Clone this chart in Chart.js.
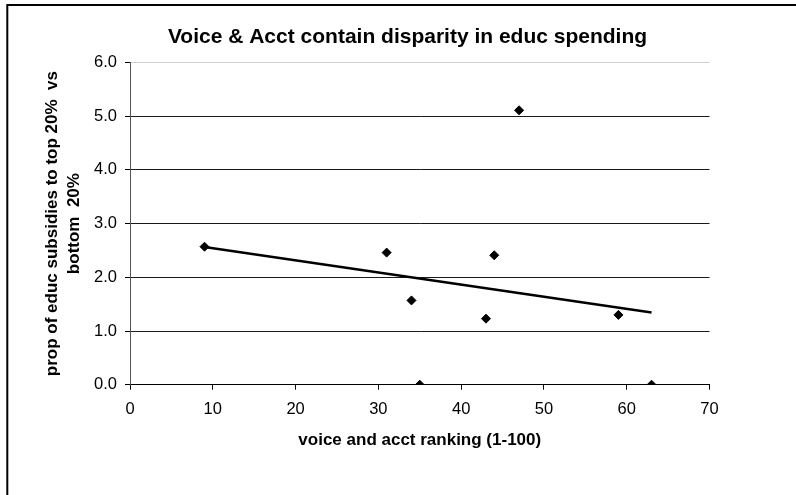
<!DOCTYPE html>
<html>
<head>
<meta charset="utf-8">
<title>Voice & Acct contain disparity in educ spending</title>
<script src="https://cdn.jsdelivr.net/npm/chart.js@4/dist/chart.umd.min.js"></script>
<style>
  html, body { margin: 0; padding: 0; background: #fff; }
  #wrap { width: 796px; height: 495px; position: relative; }
</style>
</head>
<body>
<div id="wrap"><canvas id="chart" width="796" height="495"></canvas></div>
<script>
// Voice & accountability ranking vs. ratio of education subsidies (top 20% / bottom 20%)
const voiceRank    = [9, 31, 34, 35, 43, 44, 47, 59, 63];
const subsidyRatio = [2.57, 2.46, 1.57, 0.0, 1.23, 2.41, 5.11, 1.30, 0.0];

const chartTitle = 'Voice & Acct contain disparity in educ spending';
const xTitle = 'voice and acct ranking (1-100)';
const yTitle = ['prop of educ subsidies to top 20%  vs', 'bottom  20%'];
const xTicks = [0, 10, 20, 30, 40, 50, 60, 70];
const yTicks = [0, 1, 2, 3, 4, 5, 6];

const points = voiceRank.map((x, i) => ({ x, y: subsidyRatio[i] }));

// Ordinary least-squares linear trendline across the observed x range
function linearFit(xs, ys) {
  const n = xs.length;
  const mx = xs.reduce((a, b) => a + b, 0) / n;
  const my = ys.reduce((a, b) => a + b, 0) / n;
  let sxy = 0, sxx = 0;
  for (let i = 0; i < n; i++) {
    sxy += (xs[i] - mx) * (ys[i] - my);
    sxx += (xs[i] - mx) * (xs[i] - mx);
  }
  const slope = sxy / sxx;
  return x => my + slope * (x - mx);
}
const fit = linearFit(voiceRank, subsidyRatio);
const xMin = Math.min(...voiceRank), xMax = Math.max(...voiceRank);
const trend = [{ x: xMin, y: fit(xMin) }, { x: xMax, y: fit(xMax) }];

const FONT = "'Liberation Sans', Arial, Helvetica, sans-serif";

// White background plus the outer chart frame (left and top edges)
const framePlugin = {
  id: 'frame',
  beforeDraw(chart) {
    const ctx = chart.ctx;
    ctx.save();
    ctx.fillStyle = '#fff';
    ctx.fillRect(0, 0, chart.width, chart.height);
    ctx.strokeStyle = '#000';
    ctx.lineWidth = 2;
    ctx.beginPath();
    ctx.moveTo(7.3, chart.height + 2);
    ctx.lineTo(7.3, 5);
    ctx.lineTo(chart.width + 2, 5);
    ctx.stroke();
    ctx.restore();
  }
};

new Chart(document.getElementById('chart'), {
  type: 'scatter',
  data: {
    datasets: [
      {
        label: 'trend',
        data: trend,
        showLine: true,
        borderColor: '#000',
        borderWidth: 2.5,
        pointRadius: 0,
        fill: false,
        order: 2
      },
      {
        label: 'countries',
        data: points,
        pointStyle: 'rectRot',
        pointRadius: 4.5,
        pointBackgroundColor: '#000',
        pointBorderColor: '#000',
        pointBorderWidth: 1,
        order: 1
      }
    ]
  },
  options: {
    responsive: false,
    animation: false,
    devicePixelRatio: 1,
    layout: { padding: { left: 19, right: 0, top: 0, bottom: 0 } },
    plugins: {
      legend: { display: false },
      tooltip: { enabled: false },
      title: {
        display: true,
        text: chartTitle,
        color: '#000',
        font: { family: FONT, size: 21, weight: 'bold', lineHeight: 1.2 },
        padding: { top: 24.4, bottom: 12.9 }
      }
    },
    scales: {
      x: {
        type: 'linear',
        position: 'bottom',
        min: 0,
        max: 70,
        afterBuildTicks(s) { s.ticks = xTicks.map(v => ({ value: v })); },
        afterFit(s) { s.height = 110.3; },
        ticks: {
          color: '#000',
          padding: 10,
          maxRotation: 0,
          font: { family: FONT, size: 16.5 }
        },
        grid: {
          drawOnChartArea: false,
          drawTicks: true,
          tickLength: 5,
          tickColor: '#000',
          color: '#000'
        },
        border: { display: true, color: '#000', width: 1 },
        title: {
          display: true,
          text: xTitle,
          color: '#000',
          font: { family: FONT, size: 17, weight: 'bold', lineHeight: 1.2 },
          padding: { top: 0, bottom: 44.8 }
        }
      },
      y: {
        type: 'linear',
        position: 'left',
        min: 0,
        max: 6,
        afterBuildTicks(s) { s.ticks = yTicks.map(v => ({ value: v })); },
        afterFit(s) { s.width = 111; },
        ticks: {
          color: '#000',
          padding: 8,
          font: { family: FONT, size: 16.5 },
          callback: v => Number(v).toFixed(1)
        },
        grid: {
          drawTicks: true,
          tickLength: 5,
          tickColor: '#000',
          color: c => (c.tick && c.tick.value === 6 ? '#cfcfcf' : '#1a1a1a'),
          lineWidth: 1
        },
        border: { display: true, color: '#555', width: 1 },
        title: {
          display: true,
          text: yTitle,
          color: '#000',
          font: { family: FONT, size: 17, weight: 'bold', lineHeight: 1.25 },
          padding: { top: 23, bottom: 0 }
        }
      },
      yRight: {
        type: 'linear',
        position: 'right',
        display: true,
        afterFit(s) { s.width = 86.5; },
        ticks: { display: false },
        grid: { display: false },
        border: { display: false }
      }
    }
  },
  plugins: [framePlugin]
});
</script>
</body>
</html>
